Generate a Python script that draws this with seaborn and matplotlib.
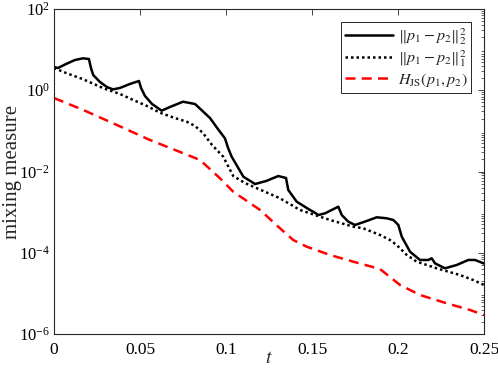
import numpy as np
import pandas as pd
import matplotlib
matplotlib.use("Agg")
import matplotlib.pyplot as plt
import seaborn as sns
from matplotlib.ticker import LogLocator, NullFormatter

# ---- data ----
t_l2 = [0.0, 0.0023, 0.007, 0.0122, 0.0169, 0.0203, 0.0215, 0.0228, 0.0267, 0.0308,
        0.0343, 0.0384, 0.0442, 0.0494, 0.0506, 0.0529, 0.057, 0.0626, 0.0674, 0.075,
        0.082, 0.0907, 0.0953, 0.0994, 0.1012, 0.1033, 0.1101, 0.1169, 0.1233, 0.1304,
        0.1349, 0.1362, 0.1411, 0.1488, 0.1508, 0.1537, 0.1576, 0.1653, 0.1673, 0.1711,
        0.175, 0.1818, 0.1876, 0.1934, 0.1973, 0.2002, 0.2022, 0.207, 0.2128, 0.2176,
        0.2196, 0.2215, 0.2273, 0.2341, 0.2409, 0.2448, 0.25]
v_l2 = [3.73, 3.53, 4.43, 5.56, 6.11, 5.87, 3.53, 2.37, 1.60, 1.20,
        1.05, 1.14, 1.43, 1.69, 1.14, 0.721, 0.459, 0.314, 0.387, 0.522,
        0.459, 0.207, 0.111, 0.0656, 0.0380, 0.0231, 7.45e-3, 4.92e-3, 5.83e-3, 7.74e-3,
        6.92e-3, 3.51e-3, 1.81e-3, 1.13e-3, 1.02e-3, 8.49e-4, 9.35e-4, 1.36e-3, 8.49e-4, 5.81e-4,
        4.82e-4, 6.05e-4, 7.46e-4, 7.05e-4, 6.40e-4, 4.82e-4, 2.48e-4, 1.06e-4, 6.64e-5, 6.64e-5,
        7.30e-5, 5.50e-5, 4.14e-5, 4.99e-5, 6.64e-5, 6.64e-5, 5.43e-5]

t_l1 = [0.0, 0.007, 0.017, 0.0287, 0.0384, 0.0461, 0.0541, 0.0616, 0.0703, 0.0772,
        0.082, 0.0866, 0.0919, 0.0984, 0.1042, 0.111, 0.1159, 0.1314, 0.143, 0.1488,
        0.1605, 0.174, 0.1798, 0.1895, 0.1953, 0.1992, 0.2051, 0.2109, 0.2225, 0.236,
        0.2438, 0.25]
v_l1 = [3.53, 2.66, 1.86, 1.12, 0.809, 0.575, 0.409, 0.280, 0.207, 0.168,
        0.132, 0.0887, 0.0449, 0.0231, 7.76e-3, 5.21e-3, 4.23e-3, 2.19e-3, 1.13e-3, 9.35e-4,
        6.40e-4, 4.38e-4, 4.00e-4, 2.74e-4, 2.06e-4, 1.55e-4, 8.81e-5, 6.03e-5, 4.14e-5, 2.83e-5,
        2.13e-5, 1.61e-5]

t_js = [0.0, 0.017, 0.0365, 0.0558, 0.0752, 0.0849, 0.0965, 0.1042, 0.1198, 0.1314,
        0.1391, 0.1469, 0.1605, 0.174, 0.1895, 0.2012, 0.2128, 0.2283, 0.2419, 0.25]
v_js = [0.644, 0.327, 0.140, 0.0596, 0.0281, 0.0192, 6.81e-3, 3.18e-3, 1.13e-3, 4.00e-4,
        2.06e-4, 1.41e-4, 8.81e-5, 6.03e-5, 3.98e-5, 1.61e-5, 9.12e-6, 5.70e-6, 3.90e-6, 2.94e-6]

labels = [r"$\|p_1-p_2\|_2^2$", r"$\|p_1-p_2\|_1^2$", r"$H_{\mathrm{JS}}(p_1,p_2)$"]
x_ticks = [0, 0.05, 0.1, 0.15, 0.2, 0.25]
x_tick_labels = ["0", "0.05", "0.1", "0.15", "0.2", "0.25"]
y_ticks = [1e-6, 1e-4, 1e-2, 1e0, 1e2]
y_tick_labels = [r"$\mathregular{10^{-6}}$", r"$\mathregular{10^{-4}}$", r"$\mathregular{10^{-2}}$",
                 r"$\mathregular{10^{0}}$", r"$\mathregular{10^{2}}$"]

# ---- style ----
sns.set_style("white")
plt.rcParams["font.family"] = ["Liberation Serif", "DejaVu Serif"]
plt.rcParams["mathtext.fontset"] = "stix"
plt.rcParams["axes.unicode_minus"] = False

fig = plt.figure(figsize=(4.98, 3.76), dpi=100)
ax = fig.add_axes([54 / 498, 1 - 334 / 376, (484 - 54) / 498, (334 - 9) / 376])

df1 = pd.DataFrame({"t": t_l2, "v": v_l2})
df2 = pd.DataFrame({"t": t_l1, "v": v_l1})
df3 = pd.DataFrame({"t": t_js, "v": v_js})

sns.lineplot(data=df1, x="t", y="v", ax=ax, color="black", lw=1.8, label=labels[0])
sns.lineplot(data=df2, x="t", y="v", ax=ax, color="black", lw=1.8, ls=(0, (1, 1.2)), label=labels[1])
sns.lineplot(data=df3, x="t", y="v", ax=ax, color="red", lw=1.8, ls=(0, (4, 2.5)), label=labels[2])

ax.set_yscale("log")
ax.set_xlim(0, 0.25)
ax.set_ylim(1e-6, 1e2)
ax.set_xticks(x_ticks)
ax.set_xticklabels(x_tick_labels)
ax.set_yticks(y_ticks)
ax.set_yticklabels(y_tick_labels)
ax.yaxis.set_minor_locator(LogLocator(base=10, subs=np.arange(2, 10), numticks=100))
ax.yaxis.set_minor_formatter(NullFormatter())

edge = (0.15, 0.15, 0.15)
for s in ax.spines.values():
    s.set_color(edge)
    s.set_linewidth(0.8)
    s.set_visible(True)
ax.tick_params(which="both", direction="in", top=True, right=True, colors=edge,
               labelcolor="black")
ax.tick_params(axis="x", labelsize=12.5, pad=6)
ax.tick_params(axis="y", labelsize=12, pad=3)
ax.tick_params(which="major", length=4, width=0.6)
ax.tick_params(which="minor", length=2, width=0.5)

ax.set_xlabel(r"$t$", fontsize=14)
ax.set_ylabel("mixing measure", fontsize=15)
ax.yaxis.set_label_coords(-0.075, 0.5)
ax.xaxis.set_label_coords(0.5, -0.05)

leg = ax.legend(loc="upper right", fontsize=11.5, frameon=True, fancybox=False,
                edgecolor=edge, framealpha=1, handlelength=3.0, handletextpad=0.3,
                borderpad=0.25, labelspacing=0.1, borderaxespad=0.8)
leg.get_frame().set_linewidth(0.7)

fig.savefig("out.png", dpi=100)
